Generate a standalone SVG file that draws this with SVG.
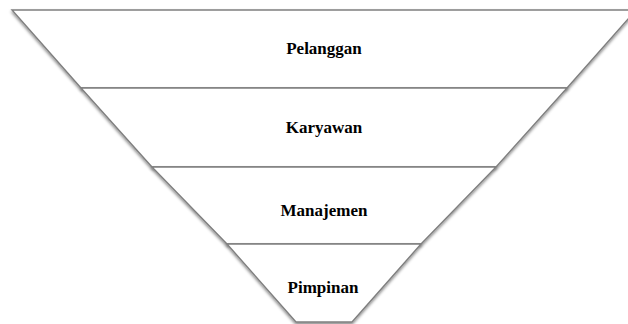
<svg xmlns="http://www.w3.org/2000/svg" width="628" height="324" viewBox="0 0 628 324">
<defs>
<filter id="sh" x="-10%" y="-10%" width="120%" height="130%">
<feDropShadow dx="0" dy="2" stdDeviation="1.5" flood-color="#000" flood-opacity="0.45"/>
</filter>
<style>
.layer{fill:#fff;stroke:#7f7f7f;stroke-width:1.4;filter:url(#sh)}
.lbl{font-family:"Liberation Serif","Times New Roman",serif;font-weight:bold;font-size:17px;fill:#000;text-anchor:middle}
</style>
</defs>
<rect width="628" height="324" fill="#fff"/>
<g id="pelanggan">
<polygon class="layer" points="12,10 636,10 567,88 81,88"/>
<text class="lbl" x="324" y="54">Pelanggan</text>
</g>
<g id="karyawan">
<polygon class="layer" points="81,88 567,88 496,167 152,167"/>
<text class="lbl" x="324" y="133">Karyawan</text>
</g>
<g id="manajemen">
<polygon class="layer" points="152,167 496,167 421,244 227,244"/>
<text class="lbl" x="324" y="216">Manajemen</text>
</g>
<g id="pimpinan">
<polygon class="layer" points="227,244 421,244 352,322 296,322"/>
<text class="lbl" x="323" y="293">Pimpinan</text>
</g>
<g id="connectors"/>
</svg>
